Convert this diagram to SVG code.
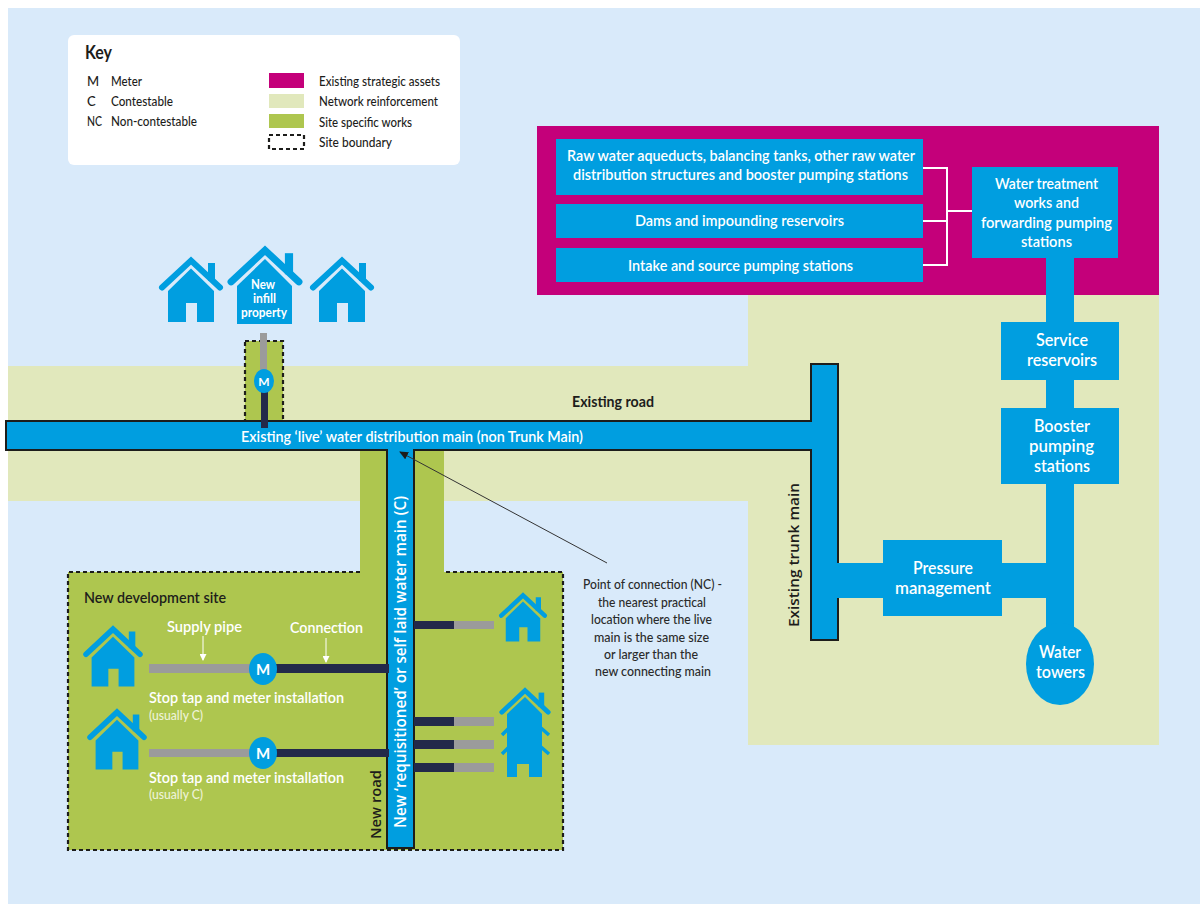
<svg xmlns="http://www.w3.org/2000/svg" xmlns:xlink="http://www.w3.org/1999/xlink" width="1200" height="904" viewBox="0 0 1200 904">
<style>
text{font-family:"Lato","Liberation Sans",sans-serif;font-size:16px;fill:#fff;font-weight:600}
.k{font-size:13px;fill:#1d1d1b;font-weight:500}
.d{fill:#1d1d1b}
.n{font-size:13px;fill:#2a2a2a;font-weight:500}
.s{font-size:13px;fill:#eef3d8;font-weight:500}
.big{font-size:17px}
.rot{font-family:"Open Sans","Liberation Sans",sans-serif}
.b{fill:#009ee0}
.r{fill:#e1e8bc}
.g{fill:#aec64f}
.dash{fill:none;stroke:#1d1d1b;stroke-width:2.200;stroke-dasharray:4 3}
.grey{fill:#9b9b9b}
.dark{fill:#23294a}
.w{fill:none;stroke:#fff;stroke-width:2}
</style>
<defs>
<marker id="ah" markerWidth="9" markerHeight="8" refX="8" refY="4" orient="auto" markerUnits="userSpaceOnUse"><path d="M0,0L9,4L0,8Z" fill="#1d1d1b"/></marker>
<marker id="wh" markerWidth="7" markerHeight="7" refX="6" refY="3.500" orient="auto" markerUnits="userSpaceOnUse"><path d="M0,0L7,3.500L0,7Z" fill="#fff"/></marker>
<g id="roof"><rect class="b" x="17" y="7" width="7" height="18"/><path d="M-29,31.500L0,4.500L29,31.500" fill="none" stroke="#009ee0" stroke-width="6" stroke-linecap="round"/></g>
<g id="house"><use xlink:href="#roof"/><path class="b" d="M0,12.500L23,35V66H6V47H-5V66H-23V35Z"/></g>
</defs>
<rect width="1200" height="904" fill="#fff"/>
<rect x="8" y="8" width="1192" height="896" fill="#d9eafa"/>
<g id="zones">
<rect class="r" x="8" y="366" width="803" height="56"/>
<rect class="r" x="8" y="450" width="740" height="51"/>
<rect class="r" x="748" y="290" width="411" height="455"/>
<rect x="537" y="126" width="622" height="169" fill="#c4007a"/>
</g>
<g id="key">
<rect x="68" y="35" width="392" height="130" rx="6" fill="#fff"/>
<text class="d" x="85" y="59" style="font-size:18px;font-weight:700" textLength="27" lengthAdjust="spacingAndGlyphs">Key</text>
<text class="k" x="87" y="86">M</text><text class="k" x="111" y="86" textLength="31" lengthAdjust="spacingAndGlyphs">Meter</text>
<text class="k" x="87" y="106">C</text><text class="k" x="111" y="106" textLength="62" lengthAdjust="spacingAndGlyphs">Contestable</text>
<text class="k" x="87" y="126" textLength="15" lengthAdjust="spacingAndGlyphs">NC</text><text class="k" x="111" y="126" textLength="86" lengthAdjust="spacingAndGlyphs">Non-contestable</text>
<rect x="269" y="73" width="35" height="15" fill="#c4007a"/>
<rect class="r" x="269" y="94" width="35" height="14"/>
<rect class="g" x="269" y="114" width="35" height="14"/>
<rect class="dash" x="269" y="135" width="35" height="14"/>
<text class="k" x="319" y="86" textLength="121" lengthAdjust="spacingAndGlyphs">Existing strategic assets</text>
<text class="k" x="319" y="106" textLength="119" lengthAdjust="spacingAndGlyphs">Network reinforcement</text>
<text class="k" x="319" y="127" textLength="93" lengthAdjust="spacingAndGlyphs">Site specific works</text>
<text class="k" x="319" y="147" textLength="73" lengthAdjust="spacingAndGlyphs">Site boundary</text>
</g>
<g id="development-site">
<rect class="g" x="360" y="450" width="84" height="125"/>
<rect class="g" x="68" y="572" width="495" height="278"/>
<path class="dash" d="M360,572H68V850H563V572H444"/>
<text class="d" x="84" y="603" textLength="142" lengthAdjust="spacingAndGlyphs">New development site</text>
<text class="d rot" style="font-size:15px" transform="translate(381 839) rotate(-90)" x="0" y="0" textLength="69" lengthAdjust="spacingAndGlyphs">New road</text>
</g>
<g id="infill-plot">
<rect class="g" x="245" y="341" width="38" height="80"/>
<rect class="dash" x="245" y="341" width="38" height="80"/>
</g>
<g id="connectors">
<path class="b" d="M387,848V450H6V421H811V364H838V640H811V450H414V848Z" stroke="#1d1d1b" stroke-width="2"/>
<rect class="b" x="836" y="563" width="212" height="35"/>
<rect class="b" x="1046" y="255" width="28" height="385"/>
<path class="w" d="M923,168H947V265H923M923,221H947M947,211H972"/>
<rect class="grey" x="260" y="333" width="7" height="45"/>
<rect class="dark" x="261" y="385" width="7" height="43"/>
<rect class="grey" x="149" y="664" width="110" height="9"/>
<rect class="dark" x="270" y="664" width="119" height="9"/>
<rect class="grey" x="149" y="749" width="110" height="8"/>
<rect class="dark" x="270" y="749" width="119" height="8"/>
<rect class="dark" x="414" y="621" width="40" height="8"/><rect class="grey" x="454" y="621" width="40" height="8"/>
<rect class="dark" x="414" y="717" width="40" height="9"/><rect class="grey" x="454" y="717" width="40" height="9"/>
<rect class="dark" x="414" y="740" width="40" height="9"/><rect class="grey" x="454" y="740" width="40" height="9"/>
<rect class="dark" x="414" y="763" width="40" height="9"/><rect class="grey" x="454" y="763" width="40" height="9"/>
<path d="M203,636V660" stroke="#fff" stroke-width="1" marker-end="url(#wh)"/>
<path d="M326,638V662" stroke="#fff" stroke-width="1" marker-end="url(#wh)"/>
<path d="M607,563L400,452" stroke="#333" stroke-width="1" marker-end="url(#ah)"/>
</g>
<g id="main-labels">
<text x="241" y="442" textLength="342" lengthAdjust="spacingAndGlyphs">Existing ‘live’ water distribution main (non Trunk Main)</text>
<text class="rot" transform="translate(406 828) rotate(-90)" x="0" y="0" textLength="332" lengthAdjust="spacingAndGlyphs">New ‘requisitioned’ or self laid water main (C)</text>
<text class="d" x="572" y="407" style="font-weight:700" textLength="82" lengthAdjust="spacingAndGlyphs">Existing road</text>
<text class="d rot" style="font-size:15px" transform="translate(799 627) rotate(-90)" x="0" y="0" textLength="144" lengthAdjust="spacingAndGlyphs">Existing trunk main</text>
</g>
<g id="node-raw-water"><rect class="b" x="556" y="139" width="367" height="56"/>
<text x="567" y="161" textLength="348" lengthAdjust="spacingAndGlyphs">Raw water aqueducts, balancing tanks, other raw water</text>
<text x="573" y="180" textLength="335" lengthAdjust="spacingAndGlyphs">distribution structures and booster pumping stations</text></g>
<g id="node-dams"><rect class="b" x="556" y="204" width="367" height="34"/>
<text x="635" y="226" textLength="209" lengthAdjust="spacingAndGlyphs">Dams and impounding reservoirs</text></g>
<g id="node-intake"><rect class="b" x="556" y="248" width="367" height="34"/>
<text x="628" y="271" textLength="225" lengthAdjust="spacingAndGlyphs">Intake and source pumping stations</text></g>
<g id="node-treatment"><rect class="b" x="972" y="167" width="146" height="91"/>
<text x="995" y="189" textLength="103" lengthAdjust="spacingAndGlyphs">Water treatment</text>
<text x="1014" y="208" textLength="65" lengthAdjust="spacingAndGlyphs">works and</text>
<text x="981" y="228" textLength="131" lengthAdjust="spacingAndGlyphs">forwarding pumping</text>
<text x="1021" y="247" textLength="51" lengthAdjust="spacingAndGlyphs">stations</text></g>
<g id="node-service"><rect class="b" x="1001" y="322" width="118" height="58"/>
<text class="big" x="1036" y="346" textLength="52" lengthAdjust="spacingAndGlyphs">Service</text>
<text class="big" x="1027" y="366" textLength="70" lengthAdjust="spacingAndGlyphs">reservoirs</text></g>
<g id="node-booster"><rect class="b" x="1001" y="408" width="118" height="76"/>
<text class="big" x="1034" y="432" textLength="56" lengthAdjust="spacingAndGlyphs">Booster</text>
<text class="big" x="1029" y="452" textLength="65" lengthAdjust="spacingAndGlyphs">pumping</text>
<text class="big" x="1034" y="472" textLength="56" lengthAdjust="spacingAndGlyphs">stations</text></g>
<g id="node-pressure"><rect class="b" x="883" y="540" width="119" height="76"/>
<text class="big" x="913" y="574" textLength="60" lengthAdjust="spacingAndGlyphs">Pressure</text>
<text class="big" x="895" y="594" textLength="96" lengthAdjust="spacingAndGlyphs">management</text></g>
<g id="node-towers"><ellipse class="b" cx="1060" cy="664" rx="34" ry="41"/>
<text class="big" x="1039" y="658" textLength="42" lengthAdjust="spacingAndGlyphs">Water</text>
<text class="big" x="1036" y="678" textLength="49" lengthAdjust="spacingAndGlyphs">towers</text></g>
<g id="house-left"><use xlink:href="#house" transform="translate(191 256)"/></g>
<g id="house-right"><use xlink:href="#house" transform="translate(342 256)"/></g>
<g id="house-infill">
<use xlink:href="#roof" transform="translate(265 245) scale(1.17)"/>
<path class="b" d="M265,259L292,286V324H237V286Z"/>
<text x="251" y="289" style="font-size:13px;font-weight:700" textLength="24" lengthAdjust="spacingAndGlyphs">New</text>
<text x="253" y="303" style="font-size:13px;font-weight:700" textLength="23" lengthAdjust="spacingAndGlyphs">infill</text>
<text x="241" y="317" style="font-size:13px;font-weight:700" textLength="46" lengthAdjust="spacingAndGlyphs">property</text>
</g>
<g id="meter-infill"><ellipse class="b" cx="264" cy="381" rx="10" ry="12"/>
<text x="264" y="386" text-anchor="middle" style="font-size:12px;font-weight:700">M</text></g>
<g id="site-house-1"><use xlink:href="#house" transform="translate(113 625) scale(.93)"/></g>
<g id="site-house-2"><use xlink:href="#house" transform="translate(117 708) scale(.93)"/></g>
<g id="site-house-3"><use xlink:href="#house" transform="translate(523 592) scale(.75)"/></g>
<g id="site-flats">
<use xlink:href="#roof" transform="translate(525 687) scale(.8)"/>
<path class="b" d="M525,697L542,714V777H529V764H517V777H507V714Z"/>
<path d="M502,735L509,728M502,754L509,747M549,735L541,728M549,754L541,747" stroke="#009ee0" stroke-width="3.500" fill="none"/>
</g>
<g id="meter-1"><ellipse class="b" cx="263" cy="669" rx="14" ry="16"/>
<text x="263" y="675" text-anchor="middle" style="font-size:15px;font-weight:700">M</text></g>
<g id="meter-2"><ellipse class="b" cx="263" cy="753" rx="14" ry="16"/>
<text x="263" y="759" text-anchor="middle" style="font-size:15px;font-weight:700">M</text></g>
<g id="site-labels">
<text x="167" y="632" textLength="75" lengthAdjust="spacingAndGlyphs">Supply pipe</text>
<text x="290" y="633" textLength="73" lengthAdjust="spacingAndGlyphs">Connection</text>
<text x="149" y="703" textLength="195" lengthAdjust="spacingAndGlyphs">Stop tap and meter installation</text>
<text class="s" x="149" y="720" textLength="54" lengthAdjust="spacingAndGlyphs">(usually C)</text>
<text x="149" y="783" textLength="195" lengthAdjust="spacingAndGlyphs">Stop tap and meter installation</text>
<text class="s" x="149" y="799" textLength="54" lengthAdjust="spacingAndGlyphs">(usually C)</text>
</g>
<g id="point-of-connection">
<text class="n" x="583" y="589" textLength="139" lengthAdjust="spacingAndGlyphs">Point of connection (NC) -</text>
<text class="n" x="598" y="607" textLength="108" lengthAdjust="spacingAndGlyphs">the nearest practical</text>
<text class="n" x="591" y="624" textLength="121" lengthAdjust="spacingAndGlyphs">location where the live</text>
<text class="n" x="594" y="642" textLength="115" lengthAdjust="spacingAndGlyphs">main is the same size</text>
<text class="n" x="604" y="659" textLength="94" lengthAdjust="spacingAndGlyphs">or larger than the</text>
<text class="n" x="595" y="676" textLength="116" lengthAdjust="spacingAndGlyphs">new connecting main</text>
</g>
</svg>
